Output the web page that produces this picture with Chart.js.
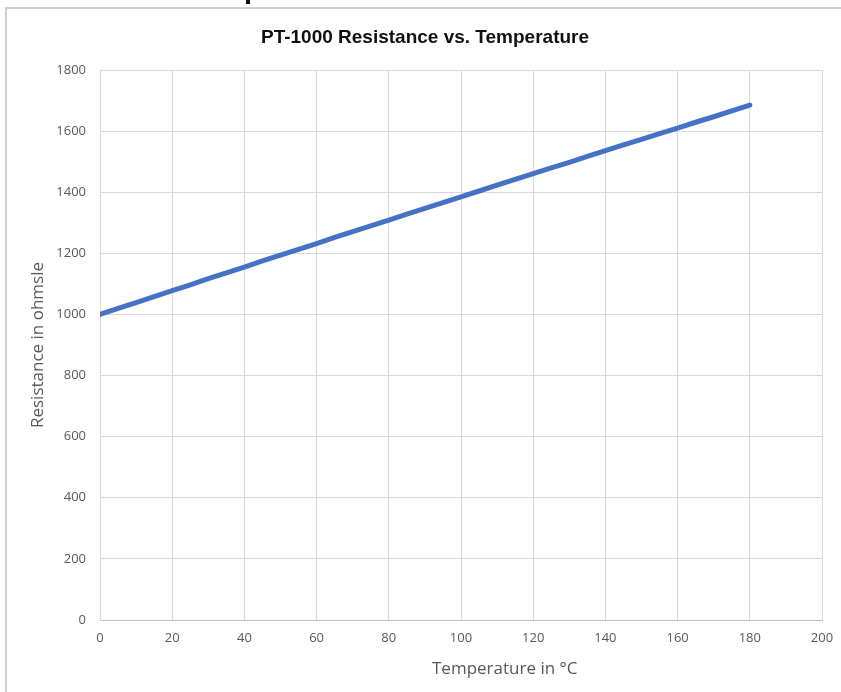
<!DOCTYPE html>
<html>
<head>
<meta charset="utf-8">
<script src="https://cdn.jsdelivr.net/npm/chart.js@4"></script>
<style>
  html, body { margin: 0; padding: 0; background: #fff; }
  #wrap { position: relative; width: 841px; height: 692px; overflow: hidden; }
  #frame { position: absolute; left: 5px; top: 7px; width: 850px; height: 700px;
           border-left: 2px solid #c9d0da; border-top: 2px solid #c9d0da; }
  #frag { position: absolute; left: 246px; top: -3px; width: 4px; height: 7px; background: #111; }
  #title { position: absolute; left: 0; width: 850px; top: 26px; text-align: center;
           font: bold 19px "Liberation Sans", Arial, sans-serif; color: #111; }
  #xtitle { position: absolute; left: 432px; top: 656px; white-space: nowrap;
            font: 17px "Open Sans", sans-serif; color: #595959; }
  canvas { position: absolute; left: 0; top: 0; }
</style>
</head>
<body>
<div id="wrap">
  <div id="frag"></div>
  <div id="frame"></div>
  <canvas id="lineChart" width="841" height="692"></canvas>
  <div id="title">PT-1000 Resistance vs. Temperature</div>
  <div id="xtitle">Temperature in °C</div>
</div>
<script>
// ---------- data ----------
const temps = [0, 5, 10, 15, 20, 25, 30, 35, 40, 45, 50, 55, 60, 65, 70, 75, 80, 85, 90,
  95, 100, 105, 110, 115, 120, 125, 130, 135, 140, 145, 150, 155, 160, 165, 170, 175, 180];
const resistance = [1000, 1020, 1039, 1058, 1078, 1097, 1117, 1136, 1155, 1175, 1194, 1213,
  1232, 1252, 1271, 1290, 1309, 1328, 1347, 1366, 1385, 1404, 1423, 1442, 1461, 1480,
  1498, 1517, 1536, 1555, 1573, 1592, 1610, 1629, 1647, 1666, 1685];
const xTicks = [0, 20, 40, 60, 80, 100, 120, 140, 160, 180, 200];
const yTicks = [0, 200, 400, 600, 800, 1000, 1200, 1400, 1600, 1800];

const points = temps.map((t, i) => ({ x: t, y: resistance[i] }));

const ctx = document.getElementById('lineChart').getContext('2d');

const config = {
  type: 'line',
  data: {
    datasets: [{
      label: 'Resistance',
      data: points,
      borderColor: '#4472c4',
      borderWidth: 5,
      pointRadius: 0,
      tension: 0,
      fill: false,
      borderCapStyle: 'round'
    }]
  },
  options: {
    responsive: false,
    animation: false,
    layout: { padding: { top: 70, right: 19, bottom: 0, left: 0 } },
    plugins: {
      legend: { display: false },
      tooltip: { enabled: false },
      title: { display: false }
    },
    scales: {
      x: {
        type: 'linear',
        min: 0,
        max: 200,
        afterBuildTicks: (scale) => { scale.ticks = xTicks.map(v => ({ value: v })); },
        afterFit: (scale) => { scale.height = 72; scale.paddingRight = 0; },
        grid: { color: '#d9d9d9', drawTicks: false },
        border: { color: '#bfbfbf' },
        ticks: {
          color: '#595959', padding: 10, font: { family: 'Open Sans', size: 13 },
          callback: (v) => String(v)
        },
        title: { display: false }
      },
      y: {
        min: 0,
        max: 1800,
        afterBuildTicks: (scale) => { scale.ticks = yTicks.map(v => ({ value: v })); },
        afterFit: (scale) => { scale.width = 100; },
        grid: { color: '#d9d9d9', drawTicks: false },
        border: { color: '#d9d9d9' },
        ticks: {
          color: '#595959', padding: 14, font: { family: 'Open Sans', size: 13 },
          callback: (v) => String(v)
        },
        title: {
          display: true,
          text: 'Resistance in ohmsle',
          color: '#595959',
          font: { family: 'Open Sans', size: 17 },
          padding: { top: 28, bottom: 0 }
        }
      }
    }
  }
};

const myChart = new Chart(ctx, config);
</script>
</body>
</html>
